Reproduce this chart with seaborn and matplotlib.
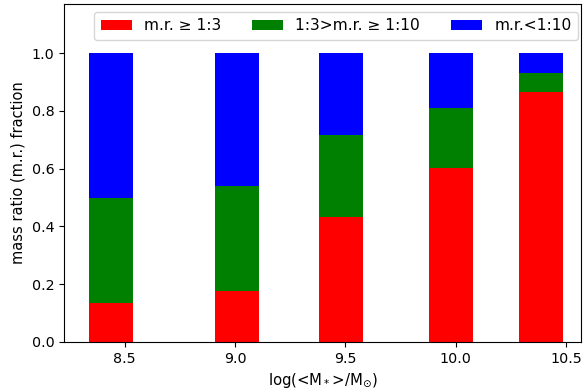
import matplotlib
matplotlib.use("Agg")
import matplotlib.pyplot as plt
from matplotlib.patches import Patch
import seaborn as sns
import pandas as pd
import numpy as np

# data
log_mass = [8.44, 9.01, 9.48, 9.98, 10.385]
frac_major = [0.134, 0.175, 0.432, 0.603, 0.867]   # m.r. >= 1:3
frac_minor = [0.364, 0.366, 0.285, 0.207, 0.065]   # 1:3 > m.r. >= 1:10
frac_vminor = [0.502, 0.459, 0.283, 0.190, 0.068]  # m.r. < 1:10
legend_labels = ["m.r. ≥ 1:3", "1:3>m.r. ≥ 1:10", "m.r.<1:10"]
colors = ["red", "green", "blue"]
xtick_vals = [8.5, 9.0, 9.5, 10.0, 10.5]
xtick_labels = ["8.5", "9.0", "9.5", "10.0", "10.5"]
ytick_vals = [0.0, 0.2, 0.4, 0.6, 0.8, 1.0]
ytick_labels = ["0.0", "0.2", "0.4", "0.6", "0.8", "1.0"]

df = pd.DataFrame({"x": log_mass, "a": frac_major, "b": frac_minor, "c": frac_vminor})
df["cum_a"] = df["a"]
df["cum_b"] = df["a"] + df["b"]
df["cum_c"] = df["a"] + df["b"] + df["c"]

fig = plt.figure(figsize=(5.87, 3.92), dpi=100)
ax = fig.add_axes([0.109, 0.1276, 0.8808, 0.862])

bar_w = 0.2
min_gap = np.min(np.diff(sorted(log_mass)))
rel_w = bar_w / min_gap

for col, c in zip(["cum_c", "cum_b", "cum_a"], ["blue", "green", "red"]):
    sns.barplot(data=df, x="x", y=col, native_scale=True, color=c,
                saturation=1, width=rel_w, errorbar=None, linewidth=0, ax=ax)

ax.set_xlim(8.225, 10.568)
ax.set_ylim(0, 1.17)
ax.set_xticks(xtick_vals)
ax.set_xticklabels(xtick_labels)
ax.set_yticks(ytick_vals)
ax.set_yticklabels(ytick_labels)
ax.tick_params(labelsize=10.3)
ax.set_xlabel("log(<M$_*$>/M$_{\\odot}$)", fontsize=10.7)
ax.set_ylabel("mass ratio (m.r.) fraction", fontsize=10.5)

handles = [Patch(facecolor=c, label=l) for c, l in zip(colors, legend_labels)]
ax.legend(handles=handles, loc="upper right", ncol=3, fontsize=11.15,
          bbox_to_anchor=(0.9942, 0.9758), borderaxespad=0)

fig.savefig("out.png", dpi=100)
